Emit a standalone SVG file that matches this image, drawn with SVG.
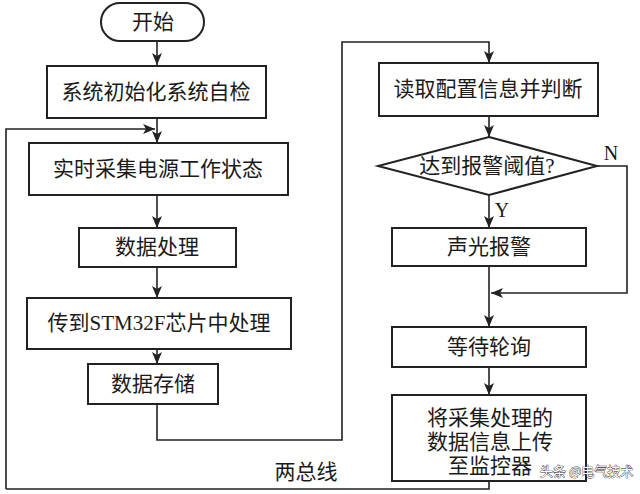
<svg xmlns="http://www.w3.org/2000/svg" width="640" height="494" viewBox="0 0 640 494">
<style>
.box{fill:#fff;stroke:#222;stroke-width:2}
.ln{fill:none;stroke:#222;stroke-width:1.6}
.t{font-family:"Liberation Serif","Noto Sans CJK SC",serif;font-size:21px;fill:#1a1a1a;text-anchor:middle;dominant-baseline:central}
.lbl{font-family:"Liberation Serif","Noto Sans CJK SC",serif;font-size:20px;fill:#1a1a1a;text-anchor:middle;dominant-baseline:central}
.wm{font-family:"Noto Sans CJK SC",sans-serif;font-size:13px;fill:#fff;stroke:#333;stroke-width:0.8;paint-order:stroke;dominant-baseline:central}
</style>
<defs>
<marker id="ar" viewBox="0 0 12 10" refX="12" refY="5" markerWidth="12" markerHeight="10" markerUnits="userSpaceOnUse" orient="auto">
<path d="M0,0 L12,5 L0,10 L3,5 z" fill="#222"/>
</marker>
</defs>
<rect width="640" height="494" fill="#fff"/>
<g id="connectors">
<line class="ln" x1="157" y1="41" x2="157" y2="65" marker-end="url(#ar)"/>
<line class="ln" x1="157" y1="118" x2="157" y2="143" marker-end="url(#ar)"/>
<polyline class="ln" points="6,489 6,129 155,129" marker-end="url(#ar)"/>
<line class="ln" x1="157" y1="195" x2="157" y2="228" marker-end="url(#ar)"/>
<line class="ln" x1="157" y1="267" x2="157" y2="298" marker-end="url(#ar)"/>
<line class="ln" x1="157" y1="349" x2="157" y2="364" marker-end="url(#ar)"/>
<polyline class="ln" points="157,404 157,440 342,440 342,42 489,42 489,63" marker-end="url(#ar)"/>
<line class="ln" x1="489" y1="116" x2="489" y2="137" marker-end="url(#ar)"/>
<line class="ln" x1="489" y1="195" x2="489" y2="228" marker-end="url(#ar)"/>
<polyline class="ln" points="597,166 627,166 627,293 491,293" marker-end="url(#ar)"/>
<line class="ln" x1="489" y1="266" x2="489" y2="327" marker-end="url(#ar)"/>
<line class="ln" x1="489" y1="367" x2="489" y2="395" marker-end="url(#ar)"/>
<polyline class="ln" points="489,481 489,489 6,489"/>
<text class="lbl" x="611" y="153">N</text>
<text class="lbl" x="502" y="210">Y</text>
<text class="t" x="306" y="472">两总线</text>
</g>
<g id="start">
<rect class="box" x="101" y="3" width="103" height="38" rx="19" ry="19"/>
<text class="t" x="153" y="22">开始</text>
</g>
<g id="init">
<rect class="box" x="47" y="66" width="219" height="52"/>
<text class="t" x="156" y="92">系统初始化系统自检</text>
</g>
<g id="collect">
<rect class="box" x="29" y="143" width="259" height="52"/>
<text class="t" x="158" y="169">实时采集电源工作状态</text>
</g>
<g id="process">
<rect class="box" x="79" y="228" width="157" height="39"/>
<text class="t" x="157" y="247">数据处理</text>
</g>
<g id="stm32">
<rect class="box" x="27" y="298" width="264" height="51"/>
<text class="t" x="159" y="323">传到STM32F芯片中处理</text>
</g>
<g id="store">
<rect class="box" x="88" y="364" width="130" height="40"/>
<text class="t" x="153" y="384">数据存储</text>
</g>
<g id="readcfg">
<rect class="box" x="379" y="63" width="219" height="53"/>
<text class="t" x="488" y="89">读取配置信息并判断</text>
</g>
<g id="decision">
<polygon class="box" points="489,137 597,166 489,195 378,166"/>
<text class="t" x="487" y="166">达到报警阈值?</text>
</g>
<g id="alarm">
<rect class="box" x="392" y="228" width="194" height="38"/>
<text class="t" x="489" y="247">声光报警</text>
</g>
<g id="wait">
<rect class="box" x="392" y="327" width="194" height="40"/>
<text class="t" x="489" y="347">等待轮询</text>
</g>
<g id="upload">
<rect class="box" x="392" y="395" width="194" height="86"/>
<text class="t" x="490" y="418">将采集处理的</text>
<text class="t" x="490" y="442">数据信息上传</text>
<text class="t" x="490" y="466">至监控器</text>
</g>
<text class="wm" x="540" y="470">头条 @电气技术</text>
</svg>
